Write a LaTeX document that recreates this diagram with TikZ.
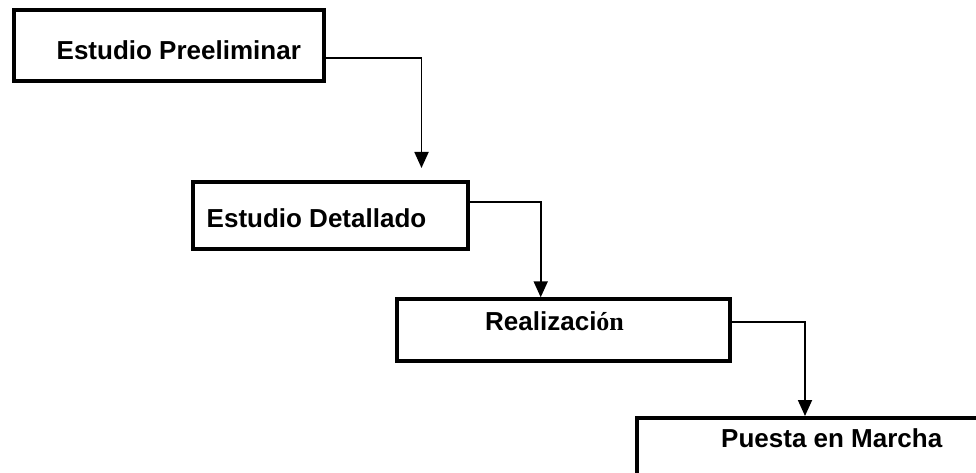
\documentclass[tikz,border=0pt]{standalone}
\usepackage{fontspec}
\setmainfont{Liberation Sans}
\newfontfamily\timesface{Liberation Serif}
\usetikzlibrary{arrows.meta}
\begin{document}
\begin{tikzpicture}[x=1pt,y=-1pt,
  stagebox/.style={draw=black, line width=4pt, inner sep=0pt, fill=none},
  stagetext/.style={inner sep=0pt, anchor=base west, font=\fontsize{26}{30}\selectfont\bfseries},
  conn/.style={draw=black, line width=1.8pt, -{Triangle[width=14pt,length=16pt]}}]
  \useasboundingbox (0,0) rectangle (976,473);
  \clip (0,0) rectangle (976,473);

  % project stages
  \node[stagebox, minimum width=310.5pt, minimum height=70.4pt] (b1) at (168.75,45.5) {};
  \node[stagebox, minimum width=275.3pt, minimum height=67pt] (b2) at (330.35,215.5) {};
  \node[stagebox, minimum width=332.7pt, minimum height=62pt] (b3) at (563.35,330.3) {};
  \node[stagebox, minimum width=400pt, minimum height=100pt] (b4) at (837,468) {};

  \node[stagetext] (t1) at (56.5,60) {Estudio Preeliminar};
  \node[stagetext] (t2) at (206.5,227.7) {Estudio Detallado};
  \node[stagetext] (t3) at (485,330) {Realizaci{\timesface ón}};
  \node[stagetext] (t4) at (721,447) {Puesta en Marcha};

  % drop-down columns of the connectors
  \coordinate (k1) at (421.5,0);
  \coordinate (k2) at (540.7,0);
  \coordinate (k3) at (805,0);

  \draw[conn] ([yshift=-12.8pt]b1.east) -| ([yshift=12pt]b2.north -| k1);
  \draw[conn] ([yshift=13.8pt]b2.east) -| (b3.north -| k2);
  \draw[conn] ([yshift=8.6pt]b3.east) -| (b4.north -| k3);
\end{tikzpicture}
\end{document}
